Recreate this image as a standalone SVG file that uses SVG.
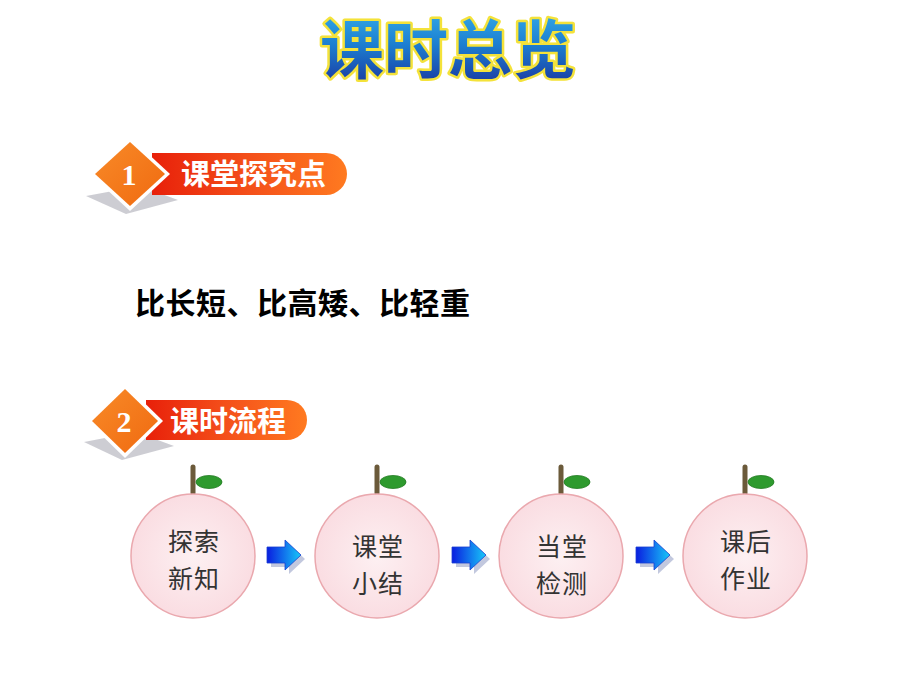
<svg xmlns="http://www.w3.org/2000/svg" width="920" height="690" viewBox="0 0 920 690">
<defs>
<linearGradient id="titleG" x1="0" y1="0" x2="0" y2="1">
<stop offset="0" stop-color="#3ab8f0"/><stop offset="0.5" stop-color="#1c7ed0"/><stop offset="1" stop-color="#1a2f9a"/>
</linearGradient>
<linearGradient id="barG" x1="0" y1="0" x2="1" y2="0">
<stop offset="0" stop-color="#e8200a"/><stop offset="0.5" stop-color="#f4501a"/><stop offset="1" stop-color="#ff7a20"/>
</linearGradient>
<linearGradient id="diaG" x1="0" y1="0" x2="1" y2="1">
<stop offset="0" stop-color="#f88a28"/><stop offset="1" stop-color="#f06a10"/>
</linearGradient>
<radialGradient id="fruitG" cx="0.5" cy="0.5" r="0.5">
<stop offset="0" stop-color="#fdf0f2"/><stop offset="1" stop-color="#fadde2"/>
</radialGradient>
<linearGradient id="arrG" x1="0" y1="0" x2="1" y2="0">
<stop offset="0" stop-color="#0a1ee0"/><stop offset="1" stop-color="#18c8f8"/>
</linearGradient>
<symbol id="arrow" overflow="visible">
<path d="M2,7 H20 V0 L36,15 L20,30 V23 H2 Z" fill="#9aa4c8" opacity="0.6" transform="translate(2,2)"/>
<path d="M0,5 H18 V-2 L34,13 L18,28 V21 H0 Z" fill="url(#arrG)" stroke="#1a40d0" stroke-width="0.8"/>
</symbol>
</defs>
<style>
.fruit{fill:url(#fruitG);stroke:#eaa8ae;stroke-width:1.5}
.stem{stroke:#6b5a3a;stroke-width:5;stroke-linecap:round}
.leaf{fill:#2e9a2e;stroke:#1f7a1f;stroke-width:0.8}
.ft{font-family:"Noto Sans CJK SC","Liberation Sans",sans-serif;font-size:25px;fill:#333;text-anchor:middle;letter-spacing:1px}
.hd{font-family:"Noto Sans CJK SC","Liberation Sans",sans-serif;font-weight:bold;font-size:29px;fill:#fff}
.num{font-family:"Liberation Serif",serif;font-weight:bold;font-size:30px;fill:#fff;text-anchor:middle}
</style>
<rect width="920" height="690" fill="#fff"/>
<g id="title">
<text x="448" y="73" text-anchor="middle" font-family="Noto Sans CJK SC,sans-serif" font-weight="bold" font-size="64" fill="url(#titleG)" stroke="#f4e23a" stroke-width="5" paint-order="stroke" stroke-linejoin="round">课时总览</text>
</g>
<g id="header1">
<polygon points="86,196 126,214 178,200 140,186" fill="#b8b8c0" opacity="0.7"/>
<path d="M152,153 H326 A21,21 0 0 1 326,195 H152 Z" fill="url(#barG)"/>
<polygon points="130,137 170,174 130,211 90,174" fill="#fff"/>
<polygon points="130,142 165,174 130,206 95,174" fill="url(#diaG)"/>
<text class="num" x="129" y="185">1</text>
<text class="hd" x="181" y="185">课堂探究点</text>
</g>
<g id="content">
<text x="135" y="314" font-family="Noto Sans CJK SC,sans-serif" font-weight="bold" font-size="30" letter-spacing="0.5" fill="#000">比长短、比高矮、比轻重</text>
</g>
<g id="header2">
<polygon points="84,442 122,460 174,446 136,432" fill="#b8b8c0" opacity="0.7"/>
<path d="M146,400 H287 A20,20 0 0 1 287,440 H146 Z" fill="url(#barG)"/>
<polygon points="125,384 163,421 125,458 87,421" fill="#fff"/>
<polygon points="125,389 158,421 125,453 92,421" fill="url(#diaG)"/>
<text class="num" x="124" y="432">2</text>
<text class="hd" x="170" y="432">课时流程</text>
</g>
<g id="node1">
<line class="stem" x1="193" y1="467" x2="193" y2="493"/>
<ellipse class="leaf" cx="209" cy="482" rx="13" ry="6.5"/>
<circle class="fruit" cx="193" cy="556" r="62"/>
<text class="ft" x="194" y="551">探索<tspan x="194" dy="37">新知</tspan></text>
</g>
<g id="node2">
<line class="stem" x1="377" y1="467" x2="377" y2="493"/>
<ellipse class="leaf" cx="393" cy="482" rx="13" ry="6.5"/>
<circle class="fruit" cx="377" cy="556" r="62"/>
<text class="ft" x="378" y="556">课堂<tspan x="378" dy="37">小结</tspan></text>
</g>
<g id="node3">
<line class="stem" x1="561" y1="467" x2="561" y2="493"/>
<ellipse class="leaf" cx="577" cy="482" rx="13" ry="6.5"/>
<circle class="fruit" cx="561" cy="556" r="62"/>
<text class="ft" x="562" y="556">当堂<tspan x="562" dy="37">检测</tspan></text>
</g>
<g id="node4">
<line class="stem" x1="745" y1="467" x2="745" y2="493"/>
<ellipse class="leaf" cx="761" cy="482" rx="13" ry="6.5"/>
<circle class="fruit" cx="745" cy="556" r="62"/>
<text class="ft" x="746" y="551">课后<tspan x="746" dy="37">作业</tspan></text>
</g>
<g id="connectors">
<use href="#arrow" x="267" y="542"/>
<use href="#arrow" x="452" y="542"/>
<use href="#arrow" x="636" y="542"/>
</g>
</svg>
